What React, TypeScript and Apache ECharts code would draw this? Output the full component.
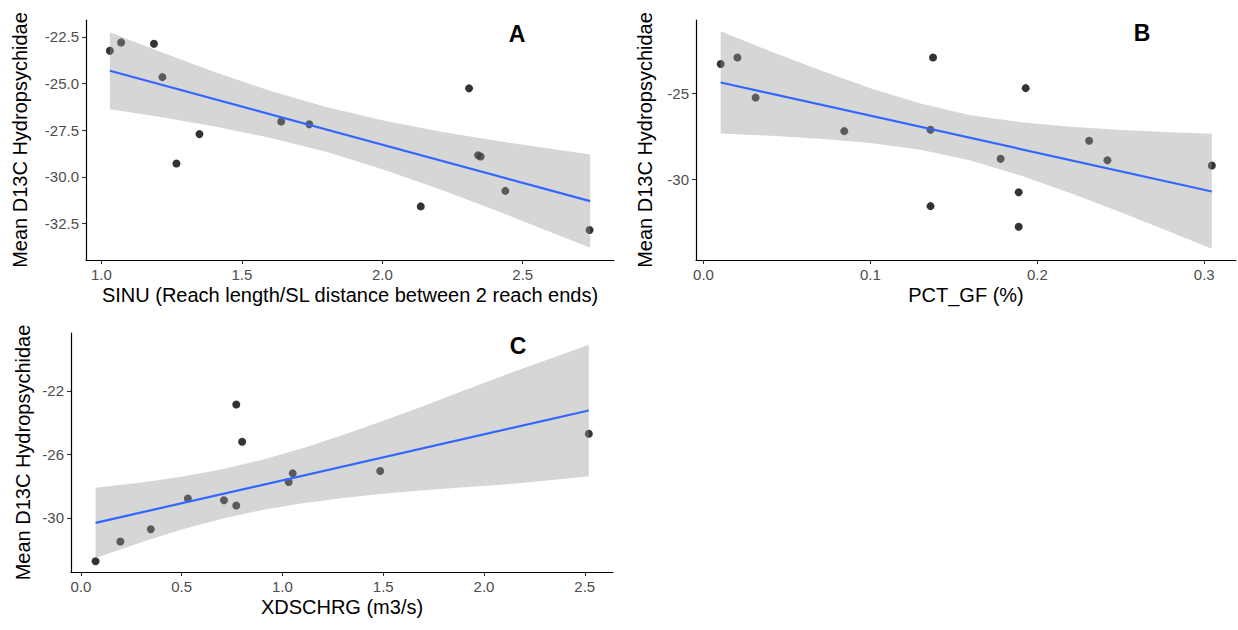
import React, { useEffect, useRef } from "react";
import * as echarts from "echarts";

// ---- Panel A: SINU ----
const sinuX = [1.03, 1.07, 1.187, 1.217, 1.349, 1.267, 1.64, 1.74, 2.309, 2.341, 2.35, 2.438, 2.137, 2.738];
const sinuY = [-23.25, -22.8, -22.87, -24.66, -27.71, -29.28, -27.03, -27.18, -25.26, -28.84, -28.91, -30.75, -31.58, -32.84];
const sinuFitX = [1.03, 2.74];
const sinuFitY = [-24.32, -31.3];
const sinuBandX = [1.03, 1.2, 1.4, 1.6, 1.8, 2.0, 2.2, 2.4, 2.6, 2.74];
const sinuBandUpper = [-22.26, -23.25, -24.37, -25.39, -26.26, -26.97, -27.56, -28.05, -28.5, -28.8];
const sinuBandLower = [-26.38, -26.77, -27.29, -27.91, -28.66, -29.59, -30.64, -31.77, -32.96, -33.8];
const sinuXTicks = [1.0, 1.5, 2.0, 2.5];
const sinuYTicks = [-32.5, -30.0, -27.5, -25.0, -22.5];

// ---- Panel B: PCT_GF ----
const pctX = [0.0103, 0.0203, 0.0312, 0.0843, 0.1375, 0.136, 0.136, 0.178, 0.1888, 0.1888, 0.193, 0.231, 0.242, 0.3045];
const pctY = [-23.31, -22.93, -25.26, -27.21, -22.93, -27.13, -31.57, -28.82, -30.76, -32.77, -24.71, -27.77, -28.9, -29.21];
const pctFitX = [0.0103, 0.3045];
const pctFitY = [-24.38, -30.72];
const pctBandX = [0.0103, 0.04, 0.07, 0.1, 0.13, 0.16, 0.19, 0.22, 0.25, 0.28, 0.3045];
const pctBandUpper = [-21.41, -22.56, -23.67, -24.72, -25.61, -26.28, -26.69, -26.96, -27.14, -27.28, -27.36];
const pctBandLower = [-27.35, -27.48, -27.65, -27.9, -28.29, -28.92, -29.79, -30.82, -31.92, -33.08, -34.04];
const pctXTicks = [0.0, 0.1, 0.2, 0.3];
const pctYTicks = [-30, -25];

// ---- Panel C: XDSCHRG ----
const dischX = [0.073, 0.196, 0.347, 0.531, 0.71, 0.771, 0.771, 0.8, 1.031, 1.051, 1.485, 2.52];
const dischY = [-32.74, -31.5, -30.72, -28.79, -28.9, -29.23, -22.86, -25.21, -27.74, -27.2, -27.05, -24.7];
const dischFitX = [0.073, 2.52];
const dischFitY = [-30.32, -23.24];
const dischBandX = [0.073, 0.3, 0.5, 0.7, 0.9, 1.1, 1.3, 1.5, 1.7, 1.9, 2.1, 2.3, 2.52];
const dischBandUpper = [-28.11, -27.78, -27.42, -26.94, -26.35, -25.61, -24.78, -23.89, -22.95, -21.98, -21.01, -20.1, -19.09];
const dischBandLower = [-32.53, -31.54, -30.74, -30.06, -29.51, -29.09, -28.76, -28.49, -28.27, -28.08, -27.91, -27.66, -27.39];
const dischXTicks = [0.0, 0.5, 1.0, 1.5, 2.0, 2.5];
const dischYTicks = [-30, -26, -22];

const yTitle = "Mean D13C Hydropsychidae";
const FONT = "'Liberation Sans', Arial, Helvetica, sans-serif";

function axis(gridIndex: number, min: number, max: number, ticks: number[], fmt: (v: number) => string,
  name: string, nameGap: number, isY: boolean) {
  return {
    gridIndex,
    type: "value",
    min,
    max,
    name,
    nameLocation: "middle",
    nameGap,
    nameRotate: isY ? 90 : 0,
    nameTextStyle: { color: "#000", fontSize: 20, fontFamily: FONT },
    axisLine: { show: true, onZero: false, lineStyle: { color: "#000", width: 1.2 } },
    axisTick: { show: true, length: 4, customValues: ticks, lineStyle: { color: "#333", width: 1.1 } },
    axisLabel: { show: true, customValues: ticks, formatter: (v: number) => fmt(v), color: "#4D4D4D", fontSize: 15, fontFamily: FONT, margin: 7 },
    splitLine: { show: false },
  };
}

function panelSeries(idx: number, px: number[], py: number[], fx: number[], fy: number[],
  bx: number[], bu: number[], bl: number[]) {
  const bandData = bx.map((x, i) => [x, bl[i], bu[i]]);
  return [
    {
      type: "scatter",
      xAxisIndex: idx,
      yAxisIndex: idx,
      data: px.map((x, i) => [x, py[i]]),
      symbol: "circle",
      symbolSize: 8,
      itemStyle: { color: "#000" },
      z: 2,
      silent: true,
    },
    {
      type: "custom",
      xAxisIndex: idx,
      yAxisIndex: idx,
      data: bandData,
      encode: { x: 0, y: [1, 2] },
      z: 3,
      silent: true,
      renderItem: (params: any, api: any) => {
        if (params.dataIndex !== 0) return null;
        const top = bandData.map((d) => api.coord([d[0], d[2]]));
        const bot = bandData.map((d) => api.coord([d[0], d[1]])).reverse();
        return {
          type: "polygon",
          shape: { points: top.concat(bot) },
          style: { fill: "rgba(153,153,153,0.4)", stroke: "none" },
        };
      },
    },
    {
      type: "line",
      xAxisIndex: idx,
      yAxisIndex: idx,
      data: fx.map((x, i) => [x, fy[i]]),
      symbol: "none",
      lineStyle: { color: "#3366FF", width: 2.2 },
      z: 4,
      silent: true,
    },
  ];
}

export default function App() {
  const ref = useRef<HTMLDivElement>(null);
  useEffect(() => {
    if (!ref.current) return;
    const chart = echarts.init(ref.current, null, { renderer: "svg" });
    const f1 = (v: number) => v.toFixed(1);
    const f0 = (v: number) => v.toFixed(0);
    chart.setOption({
      animation: false,
      backgroundColor: "#fff",
      grid: [
        { left: 86, top: 20, width: 528, height: 240 },
        { left: 696, top: 20, width: 540, height: 240 },
        { left: 71, top: 333, width: 542, height: 239 },
      ],
      xAxis: [
        axis(0, 0.945, 2.825, sinuXTicks, f1, "SINU (Reach length/SL distance between 2 reach ends)", 25, false),
        axis(1, -0.0045, 0.319, pctXTicks, f1, "PCT_GF (%)", 25, false),
        axis(2, -0.049, 2.64, dischXTicks, f1, "XDSCHRG (m3/s)", 25, false),
      ],
      yAxis: [
        axis(0, -34.45, -21.6, sinuYTicks, f1, yTitle, 56, true),
        axis(1, -34.7, -20.75, pctYTicks, f0, yTitle, 41, true),
        axis(2, -33.42, -18.35, dischYTicks, f0, yTitle, 38, true),
      ],
      graphic: [
        { type: "text", x: 517, y: 34, style: { text: "A", font: `bold 23px ${FONT}`, fill: "#000", align: "center", verticalAlign: "middle" } },
        { type: "text", x: 1142, y: 33, style: { text: "B", font: `bold 23px ${FONT}`, fill: "#000", align: "center", verticalAlign: "middle" } },
        { type: "text", x: 518, y: 346, style: { text: "C", font: `bold 23px ${FONT}`, fill: "#000", align: "center", verticalAlign: "middle" } },
      ],
      series: [
        ...panelSeries(0, sinuX, sinuY, sinuFitX, sinuFitY, sinuBandX, sinuBandUpper, sinuBandLower),
        ...panelSeries(1, pctX, pctY, pctFitX, pctFitY, pctBandX, pctBandUpper, pctBandLower),
        ...panelSeries(2, dischX, dischY, dischFitX, dischFitY, dischBandX, dischBandUpper, dischBandLower),
      ],
    });
    return () => chart.dispose();
  }, []);
  return <div ref={ref} style={{ position: "absolute", left: 0, top: 0, width: 1238, height: 630 }} />;
}
